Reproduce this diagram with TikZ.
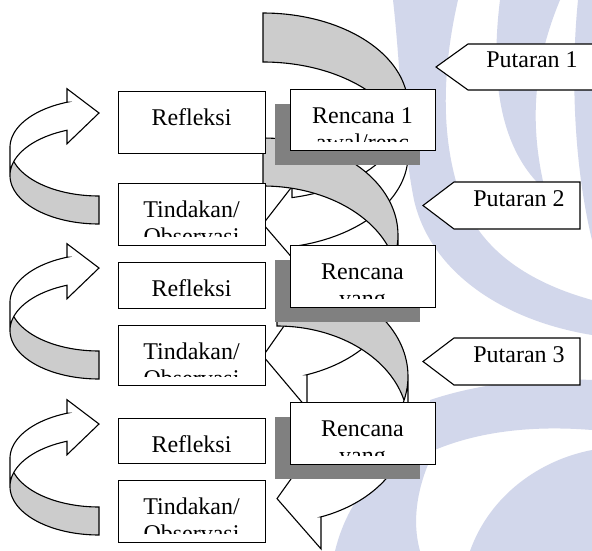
\documentclass[tikz,border=0pt]{standalone}
\usepackage{fontspec}
\setmainfont{Liberation Serif}
\definecolor{backgray}{HTML}{CCCCCC}
\definecolor{shadowgray}{HTML}{808080}
\definecolor{wmark}{HTML}{D2D7EB}
\tikzset{
  outl/.style={draw=black, line width=1.1pt, line join=miter},
  txt/.style={font=\fontsize{24}{27.6}\selectfont, anchor=base, inner sep=0pt},
  boxframe/.style={draw=black, line width=1.1pt, fill=white, inner sep=0pt},
  wm/.style={fill=wmark, draw=none},
}
% curved left arrow (tail top-left, arrowhead bottom-left)
\newcommand{\bigcurv}[7]{%
  \pgfmathsetmacro{\qL}{#1}\pgfmathsetmacro{\qT}{#2}\pgfmathsetmacro{\qW}{#3}%
  \pgfmathsetmacro{\qTh}{#4}\pgfmathsetmacro{\qAw}{#5}\pgfmathsetmacro{\qAh}{#6}%
  \pgfmathsetmacro{\qHr}{#7}%
  \pgfmathsetmacro{\qCa}{\qT+\qHr}%
  \pgfmathsetmacro{\qCb}{\qT+\qHr+\qTh}%
  \pgfmathsetmacro{\qAl}{acos(\qAh/\qW)}%
  \pgfmathsetmacro{\qGa}{asin(\qTh/(2*\qHr))}%
  \pgfmathsetmacro{\qXa}{\qL+\qAh}%
  \pgfmathsetmacro{\qYf}{\qCa+\qHr*sin(\qAl)}%
  \pgfmathsetmacro{\qDh}{(\qAw-\qTh)/2}%
  \pgfmathsetmacro{\qYs}{\qYf+\qTh}%
  \pgfmathsetmacro{\qTip}{\qT+2*\qHr+\qTh/2}%
  \fill[white] plot[domain=0:\qAl,samples=40] ({\qL+\qW*cos(\x)},{\qCa+\qHr*sin(\x)})
     -- (\qXa,\qYf-\qDh) -- (\qL,\qTip) -- (\qXa,\qYs+\qDh) -- (\qXa,\qYs)
     -- plot[domain=\qAl:0,samples=40] ({\qL+\qW*cos(\x)},{\qCb+\qHr*sin(\x)}) -- cycle;
  \fill[backgray] plot[domain=-90:-\qGa,samples=40] ({\qL+\qW*cos(\x)},{\qCb+\qHr*sin(\x)})
     -- plot[domain=\qGa:-90,samples=40] ({\qL+\qW*cos(\x)},{\qCa+\qHr*sin(\x)}) -- cycle;
  \draw[outl] plot[domain=0:\qAl,samples=40] ({\qL+\qW*cos(\x)},{\qCa+\qHr*sin(\x)})
     -- (\qXa,\qYf-\qDh) -- (\qL,\qTip) -- (\qXa,\qYs+\qDh) -- (\qXa,\qYs)
     -- plot[domain=\qAl:0,samples=40] ({\qL+\qW*cos(\x)},{\qCb+\qHr*sin(\x)})
     -- plot[domain=0:-90,samples=40] ({\qL+\qW*cos(\x)},{\qCa+\qHr*sin(\x)})
     -- (\qL,\qT+\qTh)
     -- plot[domain=-90:-\qGa,samples=40] ({\qL+\qW*cos(\x)},{\qCb+\qHr*sin(\x)});
}
% curved right arrow flipped (tail bottom-right, arrowhead top-right)
\newcommand{\smallcurv}[7]{%
  \pgfmathsetmacro{\qR}{#1}\pgfmathsetmacro{\qB}{#2}\pgfmathsetmacro{\qW}{#3}%
  \pgfmathsetmacro{\qTh}{#4}\pgfmathsetmacro{\qAw}{#5}\pgfmathsetmacro{\qAh}{#6}%
  \pgfmathsetmacro{\qHr}{#7}%
  \pgfmathsetmacro{\qCa}{\qB-\qHr}%
  \pgfmathsetmacro{\qCb}{\qB-\qHr-\qTh}%
  \pgfmathsetmacro{\qAl}{180+acos(\qAh/\qW)}%
  \pgfmathsetmacro{\qGa}{asin(\qTh/(2*\qHr))}%
  \pgfmathsetmacro{\qGb}{180-\qGa}\pgfmathsetmacro{\qGc}{180+\qGa}%
  \pgfmathsetmacro{\qXa}{\qR-\qAh}%
  \pgfmathsetmacro{\qYf}{\qCa+\qHr*sin(\qAl)}%
  \pgfmathsetmacro{\qDh}{(\qAw-\qTh)/2}%
  \pgfmathsetmacro{\qYs}{\qYf-\qTh}%
  \pgfmathsetmacro{\qTip}{\qB-2*\qHr-\qTh/2}%
  \fill[white] plot[domain=180:\qAl,samples=40] ({\qR+\qW*cos(\x)},{\qCa+\qHr*sin(\x)})
     -- (\qXa,\qYf+\qDh) -- (\qR,\qTip) -- (\qXa,\qYs-\qDh) -- (\qXa,\qYs)
     -- plot[domain=\qAl:180,samples=40] ({\qR+\qW*cos(\x)},{\qCb+\qHr*sin(\x)}) -- cycle;
  \fill[backgray] plot[domain=90:\qGb,samples=40] ({\qR+\qW*cos(\x)},{\qCb+\qHr*sin(\x)})
     -- plot[domain=\qGc:90,samples=40] ({\qR+\qW*cos(\x)},{\qCa+\qHr*sin(\x)}) -- cycle;
  \draw[outl] plot[domain=180:\qAl,samples=40] ({\qR+\qW*cos(\x)},{\qCa+\qHr*sin(\x)})
     -- (\qXa,\qYf+\qDh) -- (\qR,\qTip) -- (\qXa,\qYs-\qDh) -- (\qXa,\qYs)
     -- plot[domain=\qAl:180,samples=40] ({\qR+\qW*cos(\x)},{\qCb+\qHr*sin(\x)})
     -- plot[domain=180:90,samples=40] ({\qR+\qW*cos(\x)},{\qCa+\qHr*sin(\x)})
     -- (\qR,\qB-\qTh)
     -- plot[domain=90:\qGb,samples=40] ({\qR+\qW*cos(\x)},{\qCb+\qHr*sin(\x)});
}
% text box: name, x1, y1, x2, y2, line1, line2
\newcommand{\tbox}[7]{%
  \pgfmathsetmacro{\qBw}{#4-#2}\pgfmathsetmacro{\qBh}{#5-#3}%
  \node[boxframe, minimum width=\qBw pt, minimum height=\qBh pt, anchor=north west] (#1) at (#2,#3) {};
  \begin{scope}
    \clip (#2+2,#3+2) rectangle (#4-2,#5-9);
    \node[txt] (#1a) at ({(#2+#4)/2},#3+34) {#6};
    \node[txt] (#1b) at ({(#2+#4)/2},#3+61.6) {#7};
  \end{scope}
}
\newcommand{\shbox}[5]{%
  \fill[shadowgray] (#2-15,#3+15) rectangle (#4-15,#5+15);
  \tbox{#1}{#2}{#3}{#4}{#5}
}
\newcommand{\putaran}[7]{% name, tipx, corner x, right x, top, bottom, text
  \draw[boxframe] (#2,{(#5+#6)/2}) -- (#3,#5) -- (#4,#5) -- (#4,#6) -- (#3,#6) -- cycle;
  \node[txt] (#1) at ({(#3+min(#4,592))/2+2},#5+24) {#7};
}
\begin{document}
\begin{tikzpicture}[x=1pt,y=-1pt]
\useasboundingbox[fill=white] (0,0) rectangle (592,551);

% watermark (light background logo, approximate)
\fill[wm] (393,0) -- (458,0) .. controls (442,70) and (440,140) .. (462,200)
   .. controls (480,245) and (520,280) .. (592,300) -- (592,335)
   .. controls (500,320) and (430,270) .. (414,200)
   .. controls (402,140) and (400,60) .. cycle;
\fill[wm] (500,0) -- (560,0) .. controls (535,60) and (528,120) .. (545,190)
   .. controls (500,150) and (490,80) .. cycle;
\fill[wm] (578,0) -- (592,0) -- (592,240) .. controls (575,170) and (570,80) .. cycle;
\fill[wm] (430,400) .. controls (490,380) and (550,378) .. (592,380) -- (592,430)
   .. controls (530,425) and (475,432) .. (430,452) -- cycle;
\fill[wm] (470,551) .. controls (490,495) and (540,460) .. (592,450) -- (592,551) -- cycle;
\fill[wm] (335,551) .. controls (350,490) and (390,455) .. (440,440)
   .. controls (420,475) and (410,515) .. (420,551) -- cycle;

% big curved arrows
\bigcurv{263}{13}{145}{49}{71}{29}{93.25}
\bigcurv{263}{138}{135}{48}{115}{44}{97}
\bigcurv{277}{278}{131}{48}{112}{44}{98.3}

% small curved arrows
\smallcurv{99}{224}{89}{28}{55}{32}{48.5}
\smallcurv{99}{379}{89}{28}{55}{32}{48.5}
\smallcurv{99}{535}{89}{28}{55}{32}{48.5}

% Rencana boxes with shadows
\shbox{ren1}{290}{89}{435}{150}{Rencana 1}{awal/renc}
\shbox{ren2}{290}{245}{435}{307}{Rencana}{yang}
\shbox{ren3}{290}{402}{435}{464}{Rencana}{yang}

% Refleksi and Tindakan boxes
\tbox{ref1}{118}{91}{265}{153}{Refleksi}{}
\tbox{tin1}{118}{183}{265}{245}{Tindakan/}{Observasi}
\tbox{ref2}{118}{262}{265}{308}{Refleksi}{}
\tbox{tin2}{118}{325}{265}{385}{Tindakan/}{Observasi}
\tbox{ref3}{118}{418}{265}{463}{Refleksi}{}
\tbox{tin3}{118}{480}{265}{542}{Tindakan/}{Observasi}

% Putaran labels
\putaran{put1}{436}{468}{598}{44}{90}{Putaran 1}
\putaran{put2}{423}{454}{580}{182}{229}{Putaran 2}
\putaran{put3}{423}{454}{580}{338}{385}{Putaran 3}
\end{tikzpicture}
\end{document}
